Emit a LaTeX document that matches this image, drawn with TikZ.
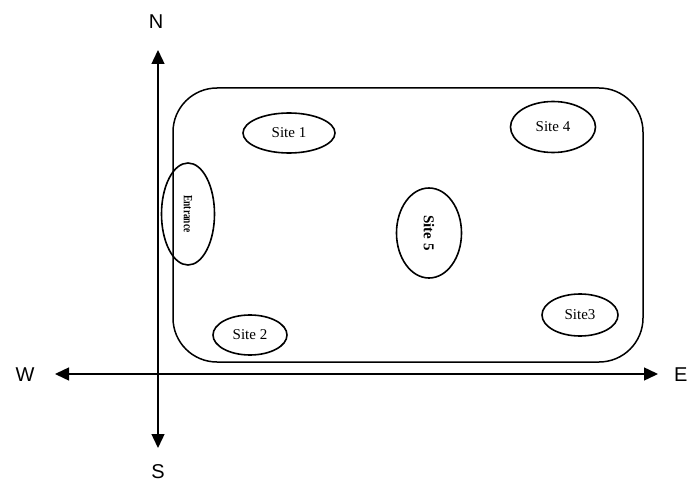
\documentclass[tikz,border=0pt]{standalone}
\usepackage{fontspec}
\setmainfont{Liberation Serif}
\newfontfamily\dirfont{Liberation Sans}
\usetikzlibrary{arrows.meta,shapes.geometric}
\begin{document}
\begin{tikzpicture}[x=1pt,y=-1pt,
  axisline/.style={line width=1.4pt,
    {Triangle[length=14pt,width=13pt]}-{Triangle[length=14pt,width=13pt]}},
  dirlabel/.style={font=\dirfont\fontsize{20}{22}\selectfont, inner sep=0pt},
  site/.style={draw, ellipse, line width=1.6pt, inner sep=0pt,
    font=\fontsize{15}{17}\selectfont},
  field/.style={draw, line width=1.5pt, rounded corners=44pt, inner sep=0pt}]
  \useasboundingbox (0,0) rectangle (688,484);

  % site boundary
  \node[field, minimum width=470pt, minimum height=274pt] (area) at (408,225) {};

  % compass axes
  \coordinate (ntip) at (158,50);
  \coordinate (stip) at (158,448);
  \coordinate (wtip) at (55,374);
  \coordinate (etip) at (658,374);
  \draw[axisline] (stip) -- (ntip);
  \draw[axisline] (wtip) -- (etip);

  \node[dirlabel] (N) at (156,22) {N};
  \node[dirlabel] (S) at (158,472) {S};
  \node[dirlabel] (W) at (25,375) {W};
  \node[dirlabel, anchor=west] (E) at (674,375) {E};

  % sites inside the boundary
  \node[site, minimum width=53pt, minimum height=102pt] (entrance) at (188,214)
    {\rotatebox{-90}{\scalebox{0.85}[1.15]{\fontsize{11}{13}\selectfont\bfseries Entrance}}};
  \node[site, minimum width=92pt, minimum height=40pt] (s1) at (289,133) {Site 1};
  \node[site, minimum width=74pt, minimum height=40pt] (s2) at (250,335) {Site 2};
  \node[site, minimum width=76pt, minimum height=42pt] (s3) at (580,315) {Site3};
  \node[site, minimum width=85pt, minimum height=51pt] (s4) at (553,127) {Site 4};
  \node[site, minimum width=65pt, minimum height=90pt] (s5) at (429,233)
    {\rotatebox{-90}{\bfseries Site 5}};
\end{tikzpicture}
\end{document}
